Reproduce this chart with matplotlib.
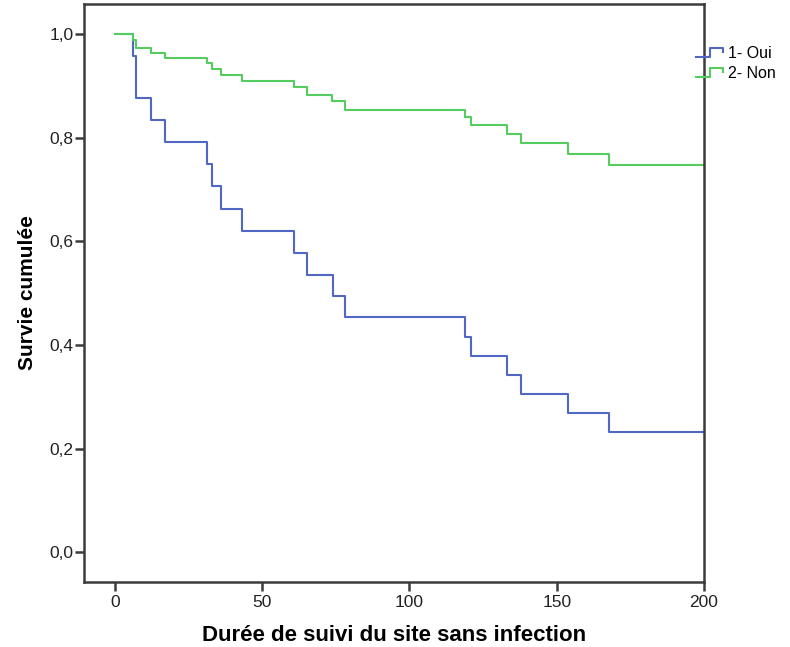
import matplotlib
matplotlib.use("Agg")
import matplotlib.pyplot as plt
from matplotlib.legend_handler import HandlerBase
from matplotlib.lines import Line2D
from matplotlib.ticker import FuncFormatter

plt.rcParams['font.family'] = ['Liberation Sans', 'DejaVu Sans']

# Kaplan-Meier steps
temps_oui = [0, 6.2, 7.0, 12.1, 17.0, 31.1, 32.8, 36.0, 43.3, 60.9, 65.1,
             73.9, 78.1, 118.8, 120.9, 133.1, 137.9, 153.8, 167.7, 200]
surv_oui = [1.0, 0.958, 0.876, 0.835, 0.792, 0.750, 0.706, 0.663, 0.621, 0.578,
            0.535, 0.494, 0.454, 0.416, 0.379, 0.342, 0.306, 0.269, 0.233, 0.233]

temps_non = [0, 6.2, 7.0, 12.1, 17.0, 31.1, 32.8, 35.9, 43.2, 60.9, 65.1,
             73.8, 78.1, 118.8, 120.9, 133.0, 137.9, 153.9, 167.8, 200]
surv_non = [1.0, 0.988, 0.974, 0.963, 0.954, 0.944, 0.933, 0.922, 0.909, 0.898,
            0.882, 0.871, 0.854, 0.840, 0.824, 0.807, 0.789, 0.769, 0.747, 0.747]

groupes = ['1- Oui', '2- Non']
couleurs = ['#5068c4', '#55cc5e']
xticks = [0, 50, 100, 150, 200]
yticks = [0.0, 0.2, 0.4, 0.6, 0.8, 1.0]


class StepHandler(HandlerBase):
    # little step glyph like the SPSS legend
    def create_artists(self, legend, orig, xd, yd, w, h, fontsize, trans):
        y0 = yd + 0.1 * h
        y1 = yd + 0.85 * h
        ym = yd + 0.55 * h
        xs = [xd, xd + 0.52 * w, xd + 0.52 * w, xd + w, xd + w]
        ys = [y0, y0, y1, y1, ym]
        ln = Line2D(xs, ys, color=orig.get_color(), lw=orig.get_linewidth(),
                    transform=trans)
        return [ln]


fig = plt.figure(figsize=(7.9, 6.47), dpi=100)
ax = fig.add_axes([84 / 790, 65 / 647, 620 / 790, 578 / 647])

l1, = ax.step(temps_oui, surv_oui, where='post', color=couleurs[0], lw=1.5)
l2, = ax.step(temps_non, surv_non, where='post', color=couleurs[1], lw=1.5)

ax.set_xlim(-10.5, 200)
ax.set_ylim(-0.057, 1.058)
ax.set_xticks(xticks)
ax.set_yticks(yticks)
ax.yaxis.set_major_formatter(FuncFormatter(lambda v, p: f"{v:.1f}".replace('.', ',')))

for s in ax.spines.values():
    s.set_color('#3c3c3c')
    s.set_linewidth(1.8)
ax.tick_params(direction='out', length=6.5, width=1.8, color='#3c3c3c',
               labelsize=12.5, labelcolor='#222222')
ax.tick_params(axis='x', pad=3)
ax.tick_params(axis='y', pad=1)

ax.set_xlabel('Durée de suivi du site sans infection', fontsize=16,
              fontweight='bold', labelpad=11)
ax.set_ylabel('Survie cumulée', fontsize=15, fontweight='bold', labelpad=9)

fig.legend([l1, l2], groupes, loc='upper left',
           bbox_to_anchor=(696 / 790, 1 - 46 / 647), frameon=False,
           fontsize=11.5, handlelength=1.7, handletextpad=0.3,
           labelspacing=0.3, borderpad=0, borderaxespad=0,
           handler_map={Line2D: StepHandler()})

fig.savefig('out.png', dpi=100)
